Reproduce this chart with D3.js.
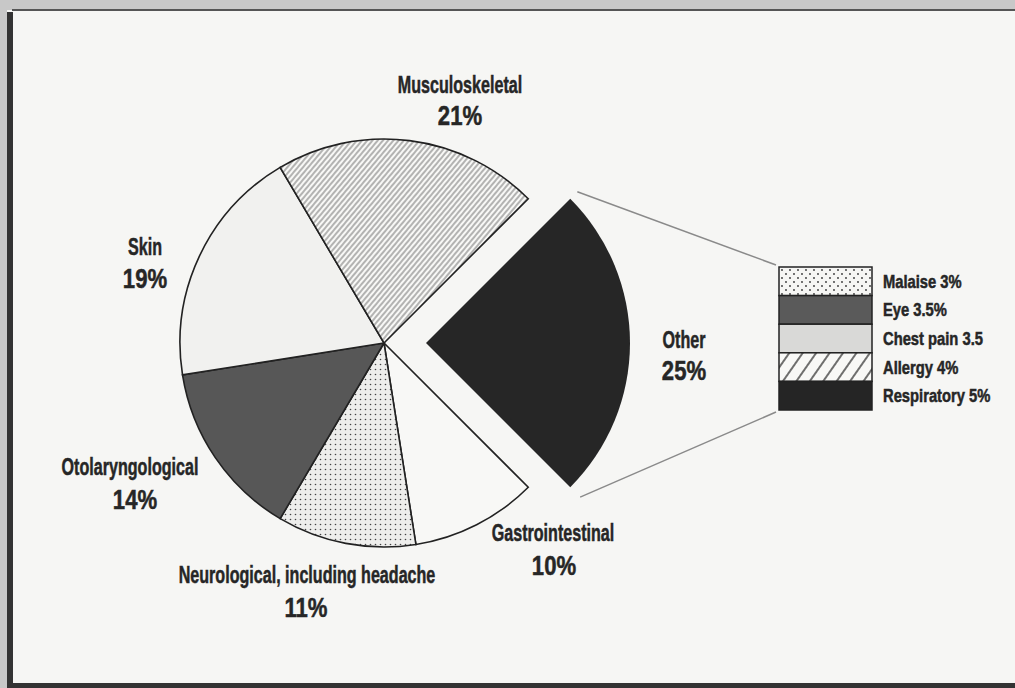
<!DOCTYPE html>
<html><head><meta charset="utf-8">
<script src="https://cdn.jsdelivr.net/npm/d3@7"></script>
<style>
html,body{margin:0;padding:0;background:#c9c9c9;}
svg{display:block;}
text{font-family:"Liberation Sans",Arial,sans-serif;font-weight:bold;fill:#262626;stroke:#262626;stroke-width:0.5px;}
</style></head>
<body>
<svg id="chart" width="1015" height="688"></svg>
<script>
// ---- data ----
const categories = ["Other","Gastrointestinal","Neurological, including headache","Otolaryngological","Skin","Musculoskeletal"];
const values = [25,10,11,14,19,21];
const pctLabels = ["25%","10%","11%","14%","19%","21%"];
const otherParts = ["Malaise","Eye","Chest pain","Allergy","Respiratory"];
const otherValues = [3,3.5,3.5,4,5];
const otherLabels = ["Malaise 3%","Eye 3.5%","Chest pain 3.5","Allergy 4%","Respiratory 5%"];

// ---- layout ----
const W = 1015, H = 688;
const cx = 384, cy = 343, R = 204, explode = 42;
const svg = d3.select("#chart");

// background + frame
svg.append("rect").attr("x",0).attr("y",0).attr("width",W).attr("height",H).attr("fill","#c8c8c8");
svg.append("rect").attr("x",7).attr("y",10).attr("width",W-7).attr("height",H-10).attr("fill","#f6f6f4");
svg.append("rect").attr("x",7).attr("y",12).attr("width",6).attr("height",H-12).attr("fill","#333");
svg.append("rect").attr("x",12).attr("y",9).attr("width",W-12).attr("height",2).attr("fill","#555");
svg.append("rect").attr("x",13).attr("y",683).attr("width",W-13).attr("height",5).attr("fill","#333");

// patterns
const defs = svg.append("defs");
const hf = defs.append("pattern").attr("id","hatchFine").attr("patternUnits","userSpaceOnUse")
  .attr("width",4).attr("height",4).attr("patternTransform","rotate(40)");
hf.append("rect").attr("width",4).attr("height",4).attr("fill","#f8f8f6");
hf.append("line").attr("x1",1).attr("y1",0).attr("x2",1).attr("y2",4).attr("stroke","#555").attr("stroke-width",0.85);

const hw = defs.append("pattern").attr("id","hatchWide").attr("patternUnits","userSpaceOnUse")
  .attr("width",11).attr("height",11).attr("patternTransform","rotate(35)");
hw.append("rect").attr("width",11).attr("height",11).attr("fill","#f8f8f6");
hw.append("line").attr("x1",2).attr("y1",0).attr("x2",2).attr("y2",11).attr("stroke","#333").attr("stroke-width",1.4);

const dn = defs.append("pattern").attr("id","dotsFine").attr("patternUnits","userSpaceOnUse")
  .attr("width",5).attr("height",5);
dn.append("rect").attr("width",5).attr("height",5).attr("fill","#eeeeec");
dn.append("circle").attr("cx",1.5).attr("cy",1.5).attr("r",0.8).attr("fill","#444");

const dm = defs.append("pattern").attr("id","dotsWide").attr("patternUnits","userSpaceOnUse")
  .attr("width",8).attr("height",8);
dm.append("rect").attr("width",8).attr("height",8).attr("fill","#f6f6f4");
dm.append("circle").attr("cx",2).attr("cy",2).attr("r",0.9).attr("fill","#333");
dm.append("circle").attr("cx",6).attr("cy",6).attr("r",0.9).attr("fill","#333");

const sliceFills = ["#262626","#f8f8f6","url(#dotsFine)","#575757","#f1f1ef","url(#hatchFine)"];
const partFills = ["url(#dotsWide)","#5a5a5a","#d9d9d7","url(#hatchWide)","#252525"];

// pie
const pie = d3.pie().sort(null).value(d => d)
  .startAngle(Math.PI/4).endAngle(Math.PI/4 + 2*Math.PI);
const arcs = pie(values);
const arc = d3.arc().innerRadius(0).outerRadius(R);

const g = svg.append("g").attr("transform",`translate(${cx},${cy})`);
g.selectAll("path.slice").data(arcs).join("path")
  .attr("class","slice")
  .attr("transform",(d,i)=>{
    if(i!==0) return null;
    const a = (d.startAngle+d.endAngle)/2;
    return `translate(${Math.sin(a)*explode},${-Math.cos(a)*explode})`;
  })
  .attr("d",arc)
  .attr("fill",(d,i)=>sliceFills[i])
  .attr("stroke",(d,i)=> i===0 ? "none" : "#222")
  .attr("stroke-width",1.6)
  .attr("stroke-linejoin","miter");

// connector lines from exploded slice to stacked bar
const o = arcs[0];
const oa = (o.startAngle+o.endAngle)/2;
const ox = cx + Math.sin(oa)*explode, oy = cy - Math.cos(oa)*explode;
const topPt = [ox + Math.sin(o.startAngle)*(R+10), oy - Math.cos(o.startAngle)*(R+10)];
const botPt = [ox + Math.sin(o.endAngle)*(R+14), oy - Math.cos(o.endAngle)*(R+14)];

// stacked legend bar
const barX = 779, barW = 93;
const y = d3.scaleBand().domain(otherParts).range([267,410]).padding(0);
svg.append("line").attr("x1",topPt[0]).attr("y1",topPt[1]).attr("x2",barX-3).attr("y2",y.range()[0]-2)
  .attr("stroke","#8a8a8a").attr("stroke-width",1.5);
svg.append("line").attr("x1",botPt[0]).attr("y1",botPt[1]).attr("x2",barX-3).attr("y2",y.range()[1]+2)
  .attr("stroke","#8a8a8a").attr("stroke-width",1.5);

svg.selectAll("rect.part").data(otherParts).join("rect")
  .attr("class","part")
  .attr("x",barX).attr("y",d=>y(d)).attr("width",barW).attr("height",y.bandwidth())
  .attr("fill",(d,i)=>partFills[i])
  .attr("stroke","#222").attr("stroke-width",1.5);

svg.selectAll("text.part").data(otherLabels).join("text")
  .attr("class","part")
  .attr("transform",(d,i)=>`translate(883,${y(otherParts[i]) + y.bandwidth()/2 + 6.5}) scale(0.82,1)`)
  .attr("font-size",18)
  .text(d=>d);

// slice labels (name + percentage), placed by hand around the pie
const labelPos = [
  [684,348, 684,380],
  [553,541, 554,575],
  [307,583, 306,617],
  [130,475, 135,509],
  [145,255, 145,288],
  [460,93, 460,125]
];
categories.forEach((c,i)=>{
  const p = labelPos[i];
  svg.append("text")
    .attr("transform",`translate(${p[0]},${p[1]}) scale(0.7,1)`)
    .attr("text-anchor","middle").attr("font-size",23).text(c);
  svg.append("text")
    .attr("transform",`translate(${p[2]},${p[3]}) scale(0.82,1)`)
    .attr("text-anchor","middle").attr("font-size",27).text(pctLabels[i]);
});
</script>
</body></html>
